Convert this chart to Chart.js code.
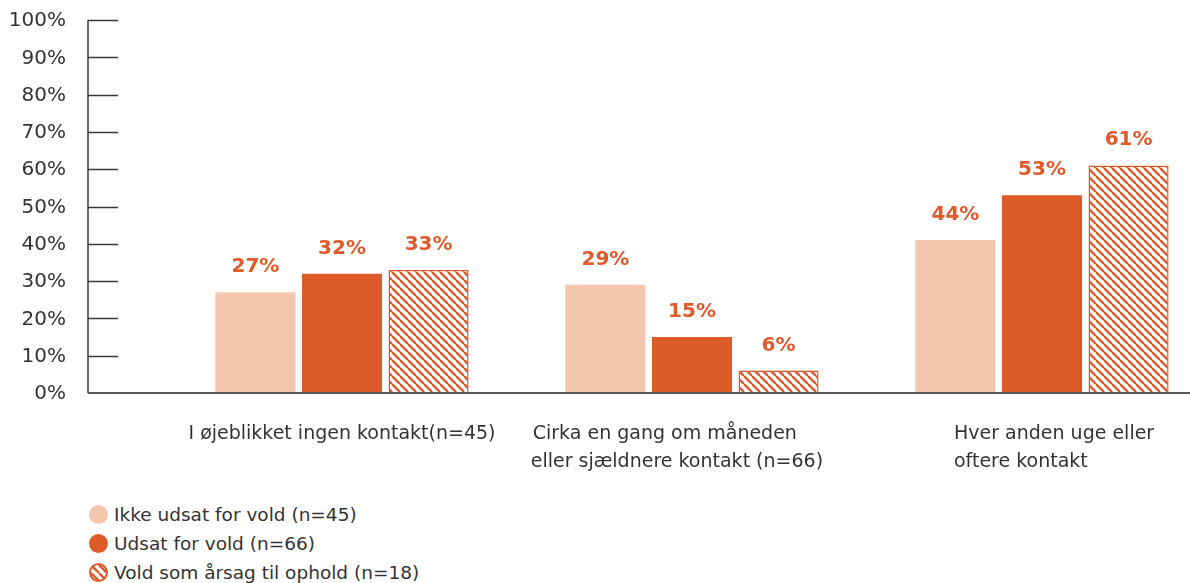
<!DOCTYPE html>
<html lang="da">
<head>
    <meta charset="UTF-8">
    <title>Kontakt med forælder</title>
    <style>
        body {
            margin: 0;
            background: #fff;
            font-family: "DejaVu Sans", sans-serif;
            width: 1190px;
            height: 583px;
            overflow: hidden;
            position: relative;
        }

        .chart-box {
            position: absolute;
            left: 0;
            top: 0;
            width: 1217px;
            height: 480px;
        }

        .legend {
            position: absolute;
            left: 89px;
            top: 500px;
            margin: 0;
            padding: 0;
            list-style: none;
        }

        .legend li {
            display: flex;
            align-items: center;
            height: 29px;
            font-size: 18.5px;
            color: #333;
        }

        .legend .dot {
            width: 19px;
            height: 19px;
            border-radius: 50%;
            margin-right: 6px;
            box-sizing: border-box;
        }
    </style>
</head>
<body>

<div class="chart-box">
    <canvas id="contactChart"></canvas>
</div>
<ul class="legend" id="legend"></ul>

<script src="https://cdn.jsdelivr.net/npm/chart.js"></script>
<script>
    // categories (padding spaces keep the lines visually left aligned)
    const categories = [
        'I øjeblikket ingen kontakt(n=45)',
        ['Cirka en gang om måneden         ', 'eller sjældnere kontakt (n=66)     '],
        ['    Hver anden uge eller', 'oftere kontakt       ']
    ];
    const seriesNames = [
        'Ikke udsat for vold (n=45)',
        'Udsat for vold (n=66)',
        'Vold som årsag til ophold (n=18)'
    ];
    // bar heights as drawn in the picture
    const ikkeUdsat = [27, 29, 41];
    const udsat = [32, 15, 53];
    const voldAarsag = [33, 6, 61];
    // values printed above the bars
    const ikkeUdsatText = ['27%', '29%', '44%'];
    const udsatText = ['32%', '15%', '53%'];
    const voldAarsagText = ['33%', '6%', '61%'];
    const yTicks = [0, 10, 20, 30, 40, 50, 60, 70, 80, 90, 100];

    const orange = '#DD5A29';
    const peach = '#F3C7AD';
    const textColor = '#333333';
    const fontFamily = '"DejaVu Sans", sans-serif';
    const axisX = 88;

    // diagonal hatch for the third series
    function makeHatch() {
        const c = document.createElement('canvas');
        c.width = 8;
        c.height = 8;
        const g = c.getContext('2d');
        g.fillStyle = '#fff';
        g.fillRect(0, 0, 8, 8);
        g.strokeStyle = orange;
        g.lineWidth = 2.4;
        for (const off of [-8, 0, 8]) {
            g.beginPath();
            g.moveTo(off, 0);
            g.lineTo(off + 8, 8);
            g.stroke();
        }
        return c;
    }
    const hatchCanvas = makeHatch();
    const hatch = document.createElement('canvas').getContext('2d').createPattern(hatchCanvas, 'repeat');

    const printed = [ikkeUdsatText, udsatText, voldAarsagText];

    // y axis line with short inward ticks, labels, and the baseline
    const axisLines = {
        id: 'axisLines',
        afterDatasetsDraw(chart) {
            const ctx = chart.ctx;
            const y = chart.scales.y;
            const base = y.getPixelForValue(0);
            ctx.save();
            ctx.strokeStyle = '#3a3a3a';
            ctx.lineWidth = 1.5;
            ctx.beginPath();
            ctx.moveTo(axisX, y.getPixelForValue(100));
            ctx.lineTo(axisX, base);
            yTicks.forEach(v => {
                if (v === 0) return;
                const py = Math.round(y.getPixelForValue(v)) + 0.5;
                ctx.moveTo(axisX, py);
                ctx.lineTo(axisX + 30, py);
            });
            ctx.stroke();
            ctx.strokeStyle = '#555';
            ctx.lineWidth = 2;
            ctx.beginPath();
            ctx.moveTo(axisX, base);
            ctx.lineTo(chart.width, base);
            ctx.stroke();

            ctx.fillStyle = textColor;
            ctx.font = '20px ' + fontFamily;
            ctx.textAlign = 'right';
            ctx.textBaseline = 'middle';
            yTicks.forEach(v => {
                ctx.fillText(v + '%', axisX - 22, y.getPixelForValue(v) + 1);
            });
            ctx.restore();
        }
    };

    const valueLabels = {
        id: 'valueLabels',
        afterDatasetsDraw(chart) {
            const ctx = chart.ctx;
            ctx.save();
            ctx.font = 'bold 20px ' + fontFamily;
            ctx.fillStyle = '#E05A2B';
            ctx.textAlign = 'center';
            ctx.textBaseline = 'alphabetic';
            chart.data.datasets.forEach((ds, i) => {
                chart.getDatasetMeta(i).data.forEach((bar, j) => {
                    ctx.fillText(printed[i][j], bar.x, bar.y - 20);
                });
            });
            ctx.restore();
        }
    };

    const chart = new Chart(document.getElementById('contactChart'), {
        type: 'bar',
        data: {
            labels: categories,
            datasets: [
                { label: seriesNames[0], data: ikkeUdsat, backgroundColor: peach, borderWidth: 0 },
                { label: seriesNames[1], data: udsat, backgroundColor: orange, borderWidth: 0 },
                { label: seriesNames[2], data: voldAarsag, backgroundColor: hatch, borderColor: orange, borderWidth: 1.5 }
            ]
        },
        options: {
            responsive: true,
            maintainAspectRatio: false,
            animation: false,
            layout: { padding: { top: 20, left: 0, right: 0, bottom: 0 } },
            datasets: {
                bar: { categoryPercentage: 0.742, barPercentage: 0.925 }
            },
            plugins: {
                legend: { display: false },
                tooltip: { enabled: false }
            },
            scales: {
                x: {
                    grid: { display: false, drawTicks: false },
                    border: { display: false },
                    ticks: {
                        color: textColor,
                        font: { family: fontFamily, size: 19, lineHeight: 1.47 },
                        padding: 27,
                        maxRotation: 0,
                        autoSkip: false
                    },
                    afterFit(scale) { scale.height = 87; }
                },
                y: {
                    min: 0,
                    max: 100,
                    grid: { display: false, drawTicks: false },
                    border: { display: false },
                    ticks: { display: false },
                    afterFit(scale) { scale.width = 167; }
                }
            }
        },
        plugins: [axisLines, valueLabels]
    });

    // legend built from the datasets
    const legend = document.getElementById('legend');
    chart.data.datasets.forEach(ds => {
        const li = document.createElement('li');
        const dot = document.createElement('span');
        dot.className = 'dot';
        if (ds.backgroundColor === hatch) {
            dot.style.background = 'url(' + hatchCanvas.toDataURL() + ')';
            dot.style.border = '2px solid ' + orange;
        } else {
            dot.style.background = ds.backgroundColor;
        }
        li.appendChild(dot);
        li.appendChild(document.createTextNode(ds.label));
        legend.appendChild(li);
    });
</script>
</body>
</html>
